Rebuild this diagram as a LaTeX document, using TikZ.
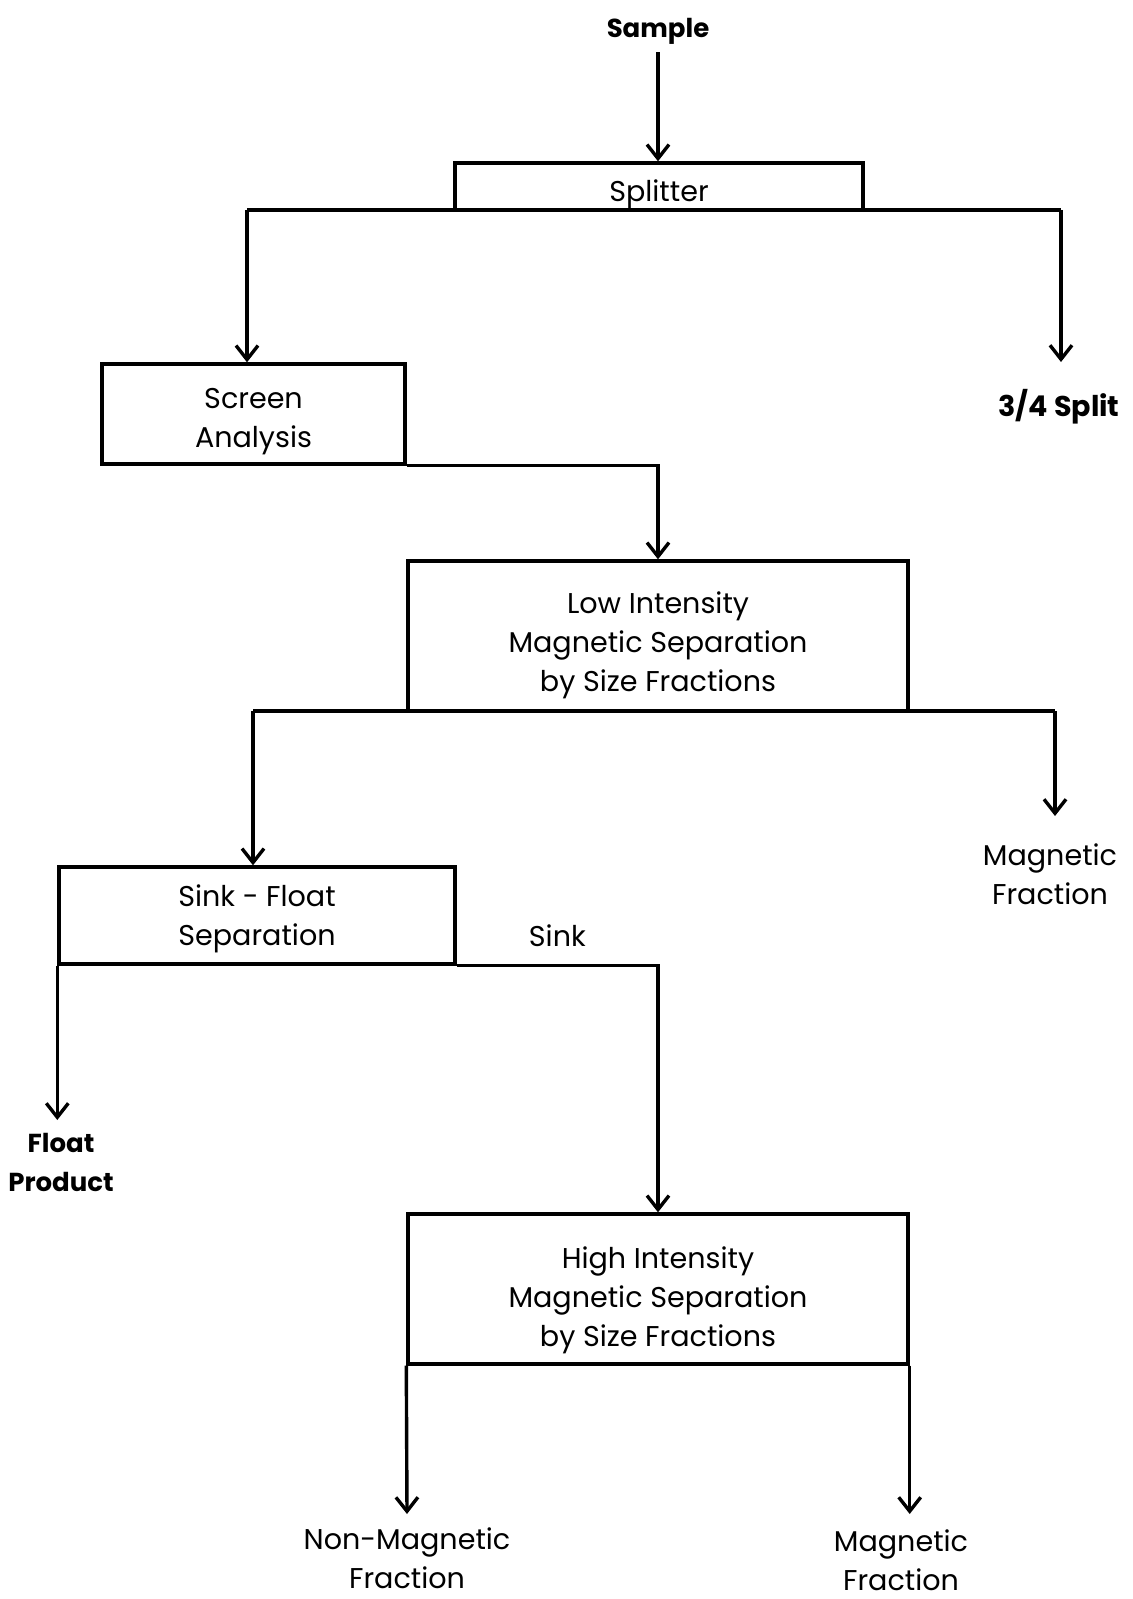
\documentclass[tikz,border=0pt]{standalone}
\usepackage{fontspec}
\setmainfont{Poppins}
\usetikzlibrary{arrows.meta,positioning}

% box text, lowered by #1 and centred in the box
\newcommand{\boxlines}[2]{\raisebox{#1}[0pt][0pt]{\begin{tabular}{@{}c@{}}#2\end{tabular}}}

\begin{document}
\begin{tikzpicture}[x=0.5pt, y=-0.5pt, >={Straight Barb[length=7pt,width=11pt]}, line width=1.7pt,
		every node/.style={font=\fontsize{14.3}{19.5}\selectfont, align=center},
		proc/.style={draw, inner sep=0pt},
		heavy/.style={font=\fontsize{13}{19.5}\selectfont\bfseries},
		outlbl/.style={anchor=north, inner xsep=0pt, inner ysep=13pt},
		endlbl/.style={anchor=north, inner xsep=0pt, inner ysep=6pt}]
		\useasboundingbox (0,0) rectangle (1133,1599);
		
		% Process boxes
		\node[proc, minimum width=204pt, minimum height=23.5pt] (splitter) at (659,186.5) {\boxlines{-7.2pt}{Splitter}};
		\node[proc, minimum width=151.5pt, minimum height=50pt] (screen) at (253.5,414) {\boxlines{-6.8pt}{Screen\\Analysis}};
		\node[proc, minimum width=250pt, minimum height=75pt] (low) at (658,636) {\boxlines{-8pt}{Low Intensity\\Magnetic Separation\\by Size Fractions}};
		\node[proc, minimum width=198pt, minimum height=48.5pt] (sinkfloat) at (257,915.5) {\boxlines{-5pt}{Sink - Float\\Separation}};
		\node[proc, minimum width=250pt, minimum height=75pt] (high) at (658,1289) {\boxlines{-8.8pt}{High Intensity\\Magnetic Separation\\by Size Fractions}};
		
		% Inputs and products
		\node[heavy] (sample) at (658,31) {Sample};
		\node[outlbl, font=\fontsize{14.3}{19.5}\selectfont\bfseries] (quarter) at (1059,362) {3/4 Split};
		\node[outlbl] (magA) at (1050,816) {Magnetic\\Fraction};
		\node[endlbl, heavy] (floatp) at (61,1120) {Float\\Product};
		\node[endlbl] (nonmag) at (407,1514) {Non-Magnetic\\Fraction};
		\node[endlbl, inner ysep=7pt] (magB) at (901,1514) {Magnetic\\Fraction};
		
		% Branch points
		\coordinate (sl) at (247,210);
		\coordinate (sr) at (1061,210);
		\coordinate (ll) at (253,711);
		\coordinate (lr) at (1055,711);
		
		% Flow
		\draw[->] (sample.south) -- (sample.south |- splitter.north);
		\draw (sl) -- (sr);
		\draw[->] (sl) -- (sl |- screen.north);
		\draw[->] (sr) -- (sr |- quarter.north);
		\draw[->] (screen.south east) -| (low.north);
		\draw (ll) -- (lr);
		\draw[->] (ll) -- (ll |- sinkfloat.north);
		\draw[->] (lr) -- (lr |- magA.north);
		\draw[->] (sinkfloat.south west) -- (sinkfloat.south west |- floatp.north);
		\draw[->] (sinkfloat.south east) -| node[pos=0.25, above=5.5pt] (sinklbl) {Sink} (high.north);
		\draw[->] (high.south west) -- (nonmag.north);
		\draw[->] (high.south east) -- (high.south east |- magB.north);
		
	\end{tikzpicture}
\end{document}
